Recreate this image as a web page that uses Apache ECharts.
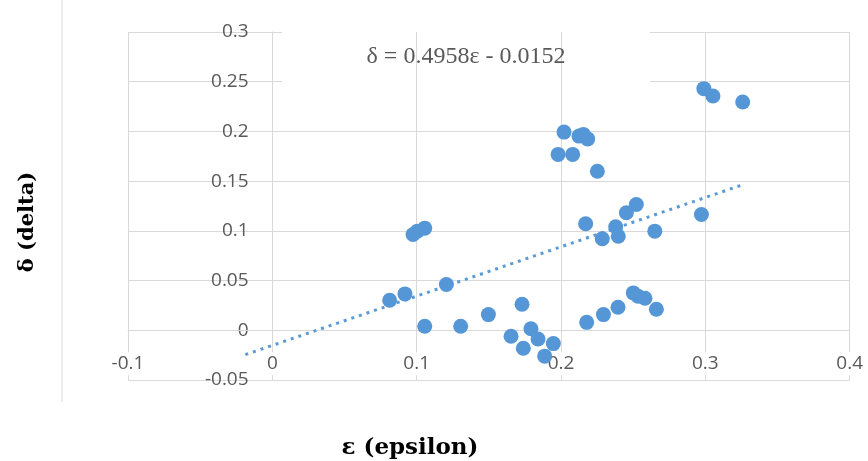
<!DOCTYPE html>
<html>
<head>
<meta charset="utf-8">
<script src="https://cdn.jsdelivr.net/npm/echarts@6/dist/echarts.min.js"></script>
<style>
  html, body { margin: 0; padding: 0; background: #fff; }
  #chart { width: 868px; height: 461px; }
</style>
</head>
<body>
<div id="chart"></div>
<script>
// Measured strain pairs: epsilon (x) and delta (y)
const epsilon = [
  0.0813, 0.0919, 0.0975, 0.1005, 0.1056, 0.1056, 0.1206, 0.1305, 0.1497, 0.1654,
  0.1730, 0.1739, 0.1792, 0.1841, 0.1887, 0.1947, 0.1980, 0.2021, 0.2081, 0.2125,
  0.2155, 0.2185, 0.2252, 0.2171, 0.2178, 0.2286, 0.2294, 0.2379, 0.2397, 0.2395,
  0.2453, 0.2501, 0.2522, 0.2534, 0.2582, 0.2650, 0.2661, 0.2973, 0.2990, 0.3053,
  0.3259
];
const delta = [
  0.0302, 0.0366, 0.0963, 0.0997, 0.1027, 0.0040, 0.0460, 0.0040, 0.0158, -0.0060,
  0.0262, -0.0181, 0.0015, -0.0087, -0.0260, -0.0134, 0.1769, 0.1993, 0.1769, 0.1953,
  0.1970, 0.1925, 0.1600, 0.1071, 0.0080, 0.0920, 0.0158, 0.1041, 0.0946, 0.0232,
  0.1182, 0.0376, 0.1265, 0.0342, 0.0322, 0.0997, 0.0211, 0.1165, 0.2430, 0.2356,
  0.2296
];

// Axis ranges and tick steps
const xRange = [-0.1, 0.4];
const yRange = [-0.05, 0.3];
const xStep = 0.1;
const yStep = 0.05;

// Linear fit: delta = slope * epsilon + intercept
const slope = 0.4958;
const intercept = -0.0152;
const trendRange = [-0.0187, 0.3259];

const equationText = 'δ = 0.4958ε - 0.0152';
const xTitle = 'ε (epsilon)';
const yTitle = 'δ (delta)';

const points = epsilon.map((e, i) => [e, delta[i]]);
const trend = trendRange.map(e => [e, slope * e + intercept]);

// Plot rectangle
const W = 868, H = 461;
const grid = { left: 128, right: 17, top: 32, bottom: 81 };
const plotW = W - grid.left - grid.right;
const plotH = H - grid.top - grid.bottom;

// Both axes cross at zero: shift them from the plot edges onto the origin
const xAxisShift = -plotH * (0 - yRange[0]) / (yRange[1] - yRange[0]);
const yAxisShift = -plotW * (0 - xRange[0]) / (xRange[1] - xRange[0]);

const gridColor = '#d9d9d9';
const labelColor = '#595959';
const dotColor = '#5596d6';

const chart = echarts.init(document.getElementById('chart'), null, { renderer: 'canvas' });
chart.setOption({
  animation: false,
  backgroundColor: '#fff',
  grid: Object.assign({ containLabel: false }, grid),
  xAxis: {
    type: 'value', min: xRange[0], max: xRange[1], interval: xStep, z: 1,
    position: 'bottom', offset: xAxisShift,
    axisLine: { show: true, onZero: false, lineStyle: { color: gridColor, width: 1 } },
    axisTick: { show: false },
    splitLine: { show: true, lineStyle: { color: gridColor, width: 1 } },
    axisLabel: {
      margin: 22, fontFamily: 'Open Sans', fontSize: 19, color: labelColor,
      backgroundColor: '#fff', padding: [2, 2]
    }
  },
  yAxis: {
    type: 'value', min: yRange[0], max: yRange[1], interval: yStep,
    position: 'left', offset: yAxisShift,
    axisLine: { show: true, onZero: false, lineStyle: { color: gridColor, width: 1 } },
    axisTick: { show: false },
    splitLine: { show: true, lineStyle: { color: gridColor, width: 1 } },
    axisLabel: { margin: 24, fontFamily: 'Open Sans', fontSize: 19, color: labelColor }
  },
  graphic: [
    // outer frame edge on the left
    { type: 'line', z: 1, shape: { x1: 62, y1: 0, x2: 62, y2: 402 },
      style: { stroke: gridColor, lineWidth: 1 } },
    // white backing behind the fit equation
    { type: 'rect', z: 1, shape: { x: 282, y: 20, width: 368, height: 65 },
      style: { fill: '#fff' } },
    { type: 'text', z: 2, x: 466, y: 57,
      style: { text: equationText, fontFamily: 'Liberation Serif', fontSize: 24,
               fill: labelColor, align: 'center', verticalAlign: 'middle' } },
    { type: 'text', z: 2, x: 410, y: 448,
      style: { text: xTitle, fontFamily: 'DejaVu Serif', fontWeight: 'bold', fontSize: 23,
               fill: '#000', align: 'center', verticalAlign: 'middle' } },
    { type: 'text', z: 2, x: 28, y: 222, rotation: Math.PI / 2,
      style: { text: yTitle, fontFamily: 'DejaVu Serif', fontWeight: 'bold', fontSize: 21,
               fill: '#000', align: 'center', verticalAlign: 'middle' } }
  ],
  series: [
    {
      type: 'line', data: trend, showSymbol: false, symbol: 'none', z: 3,
      lineStyle: { color: '#5b9bd5', width: 3, type: [3, 5] }
    },
    {
      type: 'scatter', data: points, symbol: 'circle', symbolSize: 15, z: 4,
      itemStyle: { color: dotColor, opacity: 1 }
    }
  ]
});
</script>
</body>
</html>
